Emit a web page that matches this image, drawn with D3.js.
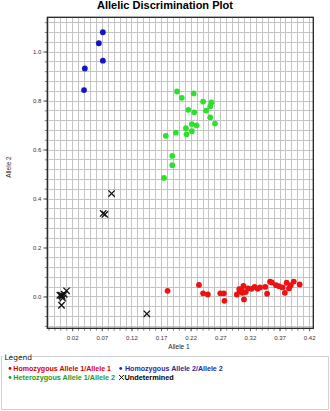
<!DOCTYPE html>
<html><head><meta charset="utf-8">
<script src="https://cdn.jsdelivr.net/npm/d3@7"></script>
<style>body{margin:0;background:#fff}svg{display:block}</style>
</head><body>
<script>
// ---- data ----
const xTicks = [0.02,0.07,0.12,0.17,0.22,0.27,0.32,0.37,0.42];
const yTicks = [0.0,0.2,0.4,0.6,0.8,1.0];
const homo22 = [[0.0718,1.079],[0.065,1.034],[0.0718,0.963],[0.0414,0.931],[0.040,0.843]];
const hetero = [[0.197,0.837],[0.205,0.811],[0.225,0.829],[0.241,0.796],[0.255,0.792],[0.253,0.776],
  [0.216,0.762],[0.226,0.752],[0.246,0.759],[0.253,0.731],[0.261,0.706],[0.222,0.704],[0.230,0.699],
  [0.212,0.687],[0.222,0.675],[0.213,0.662],[0.195,0.669],[0.178,0.656],[0.189,0.574],[0.189,0.536],[0.175,0.484]];
const homo11 = [[0.181,0.023],[0.234,0.047],[0.241,0.013],[0.249,0.008],[0.270,0.013],[0.276,0.013],
  [0.277,-0.018],[0.298,0.008],[0.303,0.022],[0.305,0.029],[0.309,0.043],[0.310,-0.012],[0.313,0.018],
  [0.317,0.033],[0.323,0.031],[0.328,0.039],[0.333,0.031],[0.337,0.037],[0.346,0.039],[0.349,0.011],
  [0.354,0.060],[0.357,0.057],[0.364,0.046],[0.369,0.042],[0.375,0.037],[0.379,0.015],[0.382,0.056],
  [0.386,0.033],[0.389,0.046],[0.394,0.061],[0.404,0.049],[0.302,0.030],[0.307,0.015]];
const undetermined = [[0.0865,0.420],[0.0723,0.339],[0.0752,0.335],[0.002,0.005],[0.0065,0.009],
  [0.0105,0.023],[-0.0008,0.005],[0.003,0.001],[0.004,-0.007],[0.002,-0.036],[0.146,-0.071]];
const legendItems = [
  {label:"Homozygous Allele 1/Allele 1", color:"#d40000", sym:"dot"},
  {label:"Homozygous Allele 2/Allele 2", color:"#2a2a9c", sym:"dot"},
  {label:"Heterozygous Allele 1/Allele 2", color:"#239a23", sym:"dot"},
  {label:"Undetermined", color:"#000", sym:"x"}
];

const W=330,H=411;
const svg=d3.select("body").append("svg").attr("width",W).attr("height",H);
const L=47.3,R=313.3,T=17.3,B=328.3;
const x=d3.scaleLinear().domain([-0.022,0.427]).range([L,R]);
const y=d3.scaleLinear().domain([-0.13,1.14]).range([B,T]);

// title
svg.append("text").attr("x",165).attr("y",8.6).attr("text-anchor","middle")
  .attr("font-family","Liberation Sans, Arial, sans-serif").attr("font-weight","bold")
  .attr("font-size",11).attr("textLength",136).attr("lengthAdjust","spacingAndGlyphs")
  .text("Allelic Discrimination Plot");

// grid
const g=svg.append("g");
const vx=d3.range(-20,43).map(i=>i/100).filter(v=>x(v)>L+0.5&&x(v)<R-0.5);
const hy=d3.range(-3,29).map(i=>i*0.04).filter(v=>y(v)>T+0.5&&y(v)<B-0.5);
g.selectAll(".vg").data(vx).join("line").attr("x1",d=>Math.round(x(d))+0.5).attr("x2",d=>Math.round(x(d))+0.5)
  .attr("y1",T).attr("y2",B).attr("stroke","#c4c4c4").attr("stroke-width",1);
g.selectAll(".hg").data(hy).join("line").attr("y1",d=>Math.round(y(d))+0.5).attr("y2",d=>Math.round(y(d))+0.5)
  .attr("x1",L).attr("x2",R).attr("stroke","#c4c4c4").attr("stroke-width",1);

// axes
const fontAx="Liberation Sans, Arial, sans-serif";
const xa=svg.append("g").attr("transform",`translate(0,${B})`)
  .call(d3.axisBottom(x).tickValues(vx).tickSize(2.5).tickFormat(""));
xa.select(".domain").remove();
xa.selectAll("line").attr("stroke","#888");
const xl=svg.append("g").attr("transform",`translate(0,${B})`)
  .call(d3.axisBottom(x).tickValues(xTicks).tickSize(3).tickPadding(4).tickFormat(d3.format(".2f")));
xl.select(".domain").remove();
xl.selectAll("line").attr("stroke","#666");
xl.selectAll("text").attr("font-family",fontAx).attr("font-size",6).attr("fill","#333");

const ya=svg.append("g").attr("transform",`translate(${L},0)`)
  .call(d3.axisLeft(y).tickValues(hy).tickSize(2.5).tickFormat(""));
ya.select(".domain").remove();
ya.selectAll("line").attr("stroke","#888");
const yl=svg.append("g").attr("transform",`translate(${L},0)`)
  .call(d3.axisLeft(y).tickValues(yTicks).tickSize(4).tickPadding(2).tickFormat(d3.format(".1f")));
yl.select(".domain").remove();
yl.selectAll("line").attr("stroke","#666");
yl.selectAll("text").attr("font-family",fontAx).attr("font-size",6).attr("fill","#333");

// frame
svg.append("rect").attr("x",L).attr("y",T).attr("width",R-L).attr("height",B-T)
  .attr("fill","none").attr("stroke","#222").attr("stroke-width",1.3);

// axis titles
svg.append("text").attr("x",179).attr("y",349).attr("text-anchor","middle")
  .attr("font-family",fontAx).attr("font-size",6.5).attr("fill","#222").text("Allele 1");
svg.append("text").attr("transform","translate(10.5,167) rotate(-90)").attr("text-anchor","middle")
  .attr("font-family",fontAx).attr("font-size",6.5).attr("fill","#222").text("Allele 2");

// points
const pts=svg.append("g");
pts.selectAll(".b").data(homo22).join("circle").attr("cx",d=>x(d[0])).attr("cy",d=>y(d[1])).attr("r",2.9).attr("fill","#1414c4");
pts.selectAll(".g").data(hetero).join("circle").attr("cx",d=>x(d[0])).attr("cy",d=>y(d[1])).attr("r",2.9).attr("fill","#2ee02e");
pts.selectAll(".r").data(homo11).join("circle").attr("cx",d=>x(d[0])).attr("cy",d=>y(d[1])).attr("r",2.9).attr("fill","#ec1212");
const s=3.2;
pts.selectAll(".x").data(undetermined).join("path")
  .attr("d",d=>{const cx=x(d[0]),cy=y(d[1]);return `M${cx-s},${cy-s}L${cx+s},${cy+s}M${cx-s},${cy+s}L${cx+s},${cy-s}`;})
  .attr("stroke","#111").attr("stroke-width",1.3).attr("fill","none");

// legend
const lg=svg.append("g");
lg.append("path").attr("d","M32,356.5 H328.5 V409.5 H1.5 V356.5 H3").attr("fill","none").attr("stroke","#d0d0d0");
lg.append("text").attr("x",4.5).attr("y",359.5).attr("font-family","DejaVu Sans, sans-serif").attr("font-size",7.5)
  .attr("fill","#111").text("Legend");
const pos=[[10,370.8,13.3,97.7],[120.7,370.8,125,97.7],[10,379.8,13.3,101.7],[121.5,379.8,124.5,49.2]];
legendItems.forEach((it,i)=>{
  const [bx,by,tx,tw]=pos[i];
  if(it.sym==="dot"){
    lg.append("circle").attr("cx",bx).attr("cy",by-2.3).attr("r",1.4).attr("fill",it.color);
  }else{
    lg.append("path").attr("d",`M${bx-2.3},${by-4.8}L${bx+2.3},${by}M${bx-2.3},${by}L${bx+2.3},${by-4.8}`)
      .attr("stroke","#000").attr("stroke-width",1);
  }
  lg.append("text").attr("x",tx).attr("y",by).attr("font-family","Liberation Sans, Arial, sans-serif")
    .attr("font-weight","bold").attr("font-size",7).attr("fill",it.color)
    .attr("textLength",tw).attr("lengthAdjust","spacingAndGlyphs").text(it.label);
});
</script>
</body></html>
